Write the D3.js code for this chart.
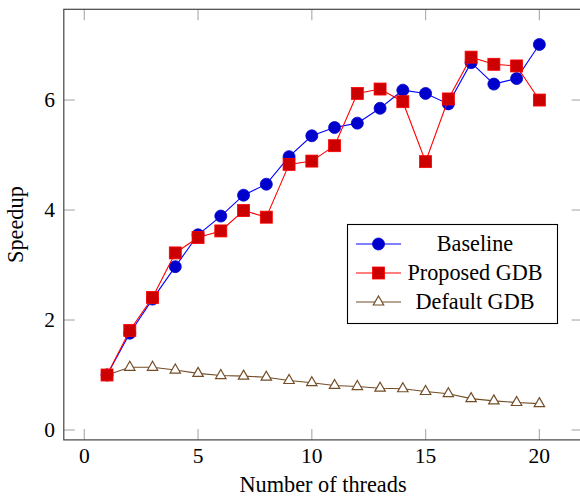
<!DOCTYPE html>
<html>
<head>
<meta charset="utf-8">
<script src="https://cdn.jsdelivr.net/npm/d3@7"></script>
<style>
  body { margin: 0; background: #fff; }
  svg { display: block; }
</style>
</head>
<body>
<svg width="580" height="497"></svg>
<script>
let threads = d3.range(1, 21);
let baseline = [1.0, 1.76, 2.38, 2.97, 3.55, 3.89, 4.27, 4.47, 4.97, 5.35,
  5.50, 5.58, 5.85, 6.18, 6.12, 5.93, 6.68, 6.29, 6.39, 7.01];
let proposed = [1.0, 1.81, 2.41, 3.22, 3.50, 3.62, 3.99, 3.87, 4.83, 4.89,
  5.17, 6.12, 6.20, 5.97, 4.88, 6.02, 6.78, 6.65, 6.62, 6.0];
let defaultGdb = [1.0, 1.14, 1.14, 1.09, 1.03, 0.99, 0.98, 0.96, 0.90, 0.86,
  0.81, 0.79, 0.76, 0.75, 0.70, 0.66, 0.57, 0.53, 0.50, 0.48];
let xTicks = [0, 5, 10, 15, 20];
let yTicks = [0, 2, 4, 6];
let seriesNames = ['Baseline', 'Proposed GDB', 'Default GDB'];

let serif = "'Liberation Serif', 'DejaVu Serif', serif";

let svg = d3.select('svg')
  .attr('font-family', serif);

let x = d3.scaleLinear().domain([-0.9, 21.9]).range([63.8, 582.6]);
let y = d3.scaleLinear().domain([-0.18, 7.65]).range([439.9, 9.3]);

let plotLeft = x.range()[0], plotRight = x.range()[1];
let plotTop = y.range()[1], plotBottom = y.range()[0];
let tickLen = 11;

// ticks (inside, all four sides)
let ticks = svg.append('g').attr('stroke', '#b0b0b0').attr('stroke-width', 1.2);
xTicks.forEach(t => {
  ticks.append('line').attr('x1', x(t)).attr('x2', x(t)).attr('y1', plotBottom).attr('y2', plotBottom - tickLen);
  ticks.append('line').attr('x1', x(t)).attr('x2', x(t)).attr('y1', plotTop).attr('y2', plotTop + tickLen);
});
yTicks.forEach(t => {
  ticks.append('line').attr('y1', y(t)).attr('y2', y(t)).attr('x1', plotLeft).attr('x2', plotLeft + tickLen);
  ticks.append('line').attr('y1', y(t)).attr('y2', y(t)).attr('x1', plotRight).attr('x2', plotRight - tickLen);
});

// frame
svg.append('rect')
  .attr('x', plotLeft).attr('y', plotTop)
  .attr('width', plotRight - plotLeft).attr('height', plotBottom - plotTop)
  .attr('fill', 'none').attr('stroke', '#444').attr('stroke-width', 1.2);

// tick labels
svg.append('g').selectAll('text').data(xTicks).enter().append('text')
  .attr('x', d => x(d)).attr('y', 463)
  .attr('text-anchor', 'middle').attr('font-size', 21.5)
  .attr('font-family', serif)
  .text(d => d);
svg.append('g').selectAll('text').data(yTicks).enter().append('text')
  .attr('x', 55).attr('y', d => y(d) + 7)
  .attr('text-anchor', 'end').attr('font-size', 21.5)
  .attr('font-family', serif)
  .text(d => d);

// axis labels
svg.append('text').attr('x', 323).attr('y', 492)
  .attr('text-anchor', 'middle').attr('font-size', 22.3)
  .attr('font-family', serif)
  .text('Number of threads');
svg.append('text').attr('transform', 'translate(23,' + (plotTop + plotBottom) / 2 + ') rotate(-90)')
  .attr('text-anchor', 'middle').attr('font-size', 22.3)
  .attr('font-family', serif)
  .text('Speedup');

let line = d3.line().x((d, i) => x(threads[i])).y(d => y(d));

let styles = [
  { data: baseline, stroke: '#0000ff', fill: '#0000cc', mark: 'circle' },
  { data: proposed, stroke: '#ff0000', fill: '#cc0000', mark: 'square' },
  { data: defaultGdb, stroke: '#734d26', fill: '#ffffff', mark: 'triangle' },
];

function drawMark(g, mark, cx, cy, s) {
  if (mark == 'circle') {
    g.append('circle').attr('cx', cx).attr('cy', cy).attr('r', 6)
      .attr('fill', s.fill).attr('stroke', s.fill).attr('stroke-width', 0.8);
  } else if (mark == 'square') {
    g.append('rect').attr('x', cx - 6).attr('y', cy - 6).attr('width', 12).attr('height', 12)
      .attr('fill', s.fill).attr('stroke', s.stroke).attr('stroke-width', 0.8);
  } else {
    let r = 6;
    let pts = [[cx, cy - r], [cx + r * 0.866, cy + r / 2], [cx - r * 0.866, cy + r / 2]];
    g.append('polygon').attr('points', pts.map(p => p.join(',')).join(' '))
      .attr('fill', s.fill).attr('stroke', s.stroke).attr('stroke-width', 1.2);
  }
}

// draw brown first, then blue, then red on top
let order = [2, 0, 1];
order.forEach(k => {
  let s = styles[k];
  let g = svg.append('g');
  g.append('path').attr('d', line(s.data))
    .attr('fill', 'none').attr('stroke', s.stroke).attr('stroke-width', 1.1);
  s.data.forEach((v, i) => drawMark(g, s.mark, x(threads[i]), y(v), s));
});

// legend
let legend = svg.append('g');
legend.append('rect').attr('x', 347.5).attr('y', 224.5).attr('width', 210).attr('height', 99)
  .attr('fill', '#fff').attr('stroke', '#000').attr('stroke-width', 1.1);
seriesNames.forEach((name, i) => {
  let s = styles[i];
  let cy = 244 + i * 29;
  legend.append('line').attr('x1', 356).attr('x2', 401).attr('y1', cy).attr('y2', cy)
    .attr('stroke', s.stroke).attr('stroke-width', 1.1);
  drawMark(legend, s.mark, 378.5, cy, s);
  legend.append('text').attr('x', 475).attr('y', cy + 7)
    .attr('text-anchor', 'middle').attr('font-size', 22.2)
    .attr('font-family', serif)
    .text(name);
});
</script>
</body>
</html>
